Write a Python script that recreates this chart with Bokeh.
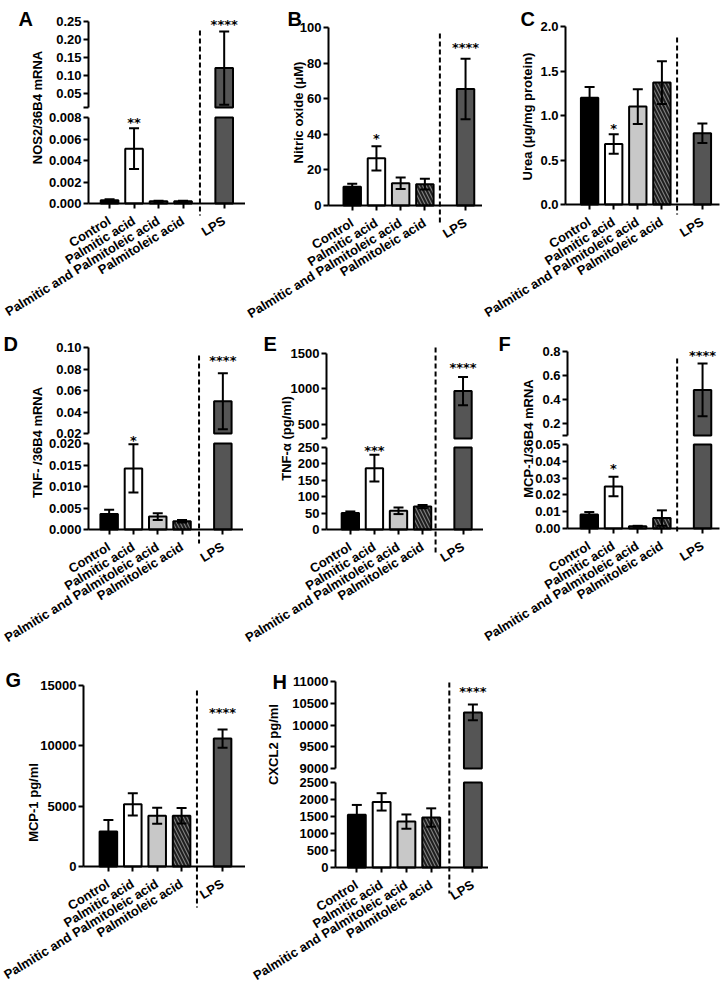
import math
from bokeh.plotting import figure
from bokeh.layouts import row, column
from bokeh.models import (ColumnDataSource, FixedTicker, PrintfTickFormatter, Label,
                          Range1d, LinearAxis, Arrow)
from bokeh.core.properties import field
from bokeh.embed import file_html
from bokeh.resources import INLINE

# ---------------- data ----------------
categories = ["Control", "Palmitic acid", "Palmitic and Palmitoleic acid",
              "Palmitoleic acid", "LPS"]

nos2_mean = [0.0003, 0.0051, 0.0002, 0.0002, 0.120]
nos2_sem = [0.0001, 0.0019, 0.00005, 0.00005, 0.102]
nos2_sig = ["", "**", "", "", "****"]

no_mean = [10.5, 26.5, 12.5, 12.0, 65.5]
no_sem = [1.7, 6.8, 3.3, 3.0, 17.0]
no_sig = ["", "*", "", "", "****"]

urea_mean = [1.20, 0.68, 1.10, 1.37, 0.80]
urea_sem = [0.12, 0.11, 0.195, 0.24, 0.11]
urea_sig = ["", "*", "", "", ""]

tnf_mrna_mean = [0.0036, 0.0142, 0.0030, 0.0019, 0.050]
tnf_mrna_sem = [0.0010, 0.0056, 0.0008, 0.0003, 0.026]
tnf_mrna_sig = ["", "*", "", "", "****"]

tnf_mean = [50, 187, 57, 70, 970]
tnf_sem = [5, 41, 10, 5, 200]
tnf_sig = ["", "***", "", "", "****"]

mcp_mrna_mean = [0.0083, 0.025, 0.0013, 0.0062, 0.48]
mcp_mrna_sem = [0.0015, 0.0058, 0.0003, 0.0046, 0.22]
mcp_mrna_sig = ["", "*", "", "", "****"]

mcp_mean = [2900, 5150, 4200, 4200, 10600]
mcp_sem = [950, 930, 660, 640, 750]
mcp_sig = ["", "", "", "", "****"]

cxcl2_mean = [1550, 1930, 1350, 1470, 10290]
cxcl2_sem = [290, 255, 210, 270, 180]
cxcl2_sig = ["", "", "", "", "****"]

# ---------------- styling / layout ----------------
FONT = "Liberation Sans"
STAR_FONT = "DejaVu Sans"
bar_fill = ["#000000", "#ffffff", "#c8c8c8", "#808080", "#555555"]
bar_hatch = [" ", " ", " ", "\\", " "]
bar_pos = [0, 1, 2, 3, 4.68]
BAR_W = 0.72
CAP_PX = 5


def seg(y0, y1, ticks, fmt, h, gap=0, blank=()):
    return dict(y0=y0, y1=y1, ticks=ticks, fmt=fmt, h=h, gap=gap, blank=list(blank))


panels = {
    "A": dict(ylabel="NOS2/36B4 mRNA", mean=nos2_mean, sem=nos2_sem, sig=nos2_sig,
              left=88, fw=157, right=0, top=21, bottom=122, xr=(-0.86, 5.55),
              segs=[seg(0.01, 0.25, [0.01, 0.05, 0.10, 0.15, 0.20, 0.25], "%.2f", 86, 10, [0.01]),
                    seg(0, 0.008, [0, 0.002, 0.004, 0.006, 0.008], "%.3f", 86)],
              letter=(18, 18), ylab=(37, 107), star_px=[0, 11, 0, 0, 12], dash=(3.69, 9, 12)),
    "B": dict(ylabel="Nitric oxide (\u03bcM)", mean=no_mean, sem=no_sem, sig=no_sig,
              left=83, fw=154, right=0, top=27, bottom=120, xr=(-0.98, 5.38),
              segs=[seg(0, 100, [0, 20, 40, 60, 80, 100], "%d", 178)],
              letter=(287, 18), ylab=(298, 112), star_px=[0, 13, 0, 0, 16], dash=(3.62, 6, 17)),
    "C": dict(ylabel="Urea (\u03bcg/mg protein)", mean=urea_mean, sem=urea_sem, sig=urea_sig,
              left=83, fw=154, right=8, top=26, bottom=121, xr=(-1.00, 5.39),
              segs=[seg(0, 2.0, [0, 0.5, 1.0, 1.5, 2.0], "%.1f", 178)],
              letter=(520, 18), ylab=(527, 116), star_px=[0, 11, 0, 0, 0], dash=(3.63, 11, 10)),
    "D": dict(ylabel="TNF- /36B4 mRNA", mean=tnf_mrna_mean, sem=tnf_mrna_sem, sig=tnf_mrna_sig,
              left=88, fw=155, right=0, top=22, bottom=126, xr=(-0.85, 5.53),
              segs=[seg(0.02, 0.10, [0.02, 0.04, 0.06, 0.08, 0.10], "%.2f", 86, 10),
                    seg(0, 0.02, [0, 0.005, 0.010, 0.015, 0.020], "%.3f", 86)],
              letter=(3, 343), ylab=(37, 442), star_px=[0, 9, 0, 0, 18], dash=(3.70, 8, 14)),
    "E": dict(ylabel="TNF-\u03b1 (pg/ml)", mean=tnf_mean, sem=tnf_sem, sig=tnf_sig,
              left=83, fw=157, right=0, top=28, bottom=126, xr=(-0.99, 5.53),
              segs=[seg(300, 1500, [300, 500, 1000, 1500], "%d", 85, 9, [300]),
                    seg(0, 250, [0, 50, 100, 150, 200, 250], "%d", 82)],
              letter=(263, 343), ylab=(286, 438), star_px=[0, 9, 0, 0, 14], dash=(3.54, -6, 24)),
    "F": dict(ylabel="MCP-1/36B4 mRNA", mean=mcp_mrna_mean, sem=mcp_mrna_sem, sig=mcp_mrna_sig,
              left=84, fw=152, right=8, top=26, bottom=127, xr=(-0.90, 5.38),
              segs=[seg(0.1, 0.8, [0.1, 0.2, 0.4, 0.6, 0.8], "%.1f", 84, 9, [0.1]),
                    seg(0, 0.05, [0, 0.01, 0.02, 0.03, 0.04, 0.05], "%.2f", 84)],
              letter=(498, 343), ylab=(528, 438), star_px=[0, 13, 0, 0, 13], dash=(3.63, 7, 6)),
    "G": dict(ylabel="MCP-1 pg/ml", mean=mcp_mean, sem=mcp_sem, sig=mcp_sig,
              left=83, fw=162, right=0, top=30, bottom=116, xr=(-1.02, 5.62),
              segs=[seg(0, 15000, [0, 5000, 10000, 15000], "%d", 181)],
              letter=(5, 679), ylab=(33, 802), star_px=[0, 0, 0, 0, 22], dash=(3.63, 5, 41)),
    "H": dict(ylabel="CXCL2 pg/ml", mean=cxcl2_mean, sem=cxcl2_sem, sig=cxcl2_sig,
              left=90, fw=153, right=0, top=26, bottom=115, xr=(-0.86, 5.31),
              segs=[seg(9000, 11000, [9000, 9500, 10000, 10500, 11000], "%d", 87, 14),
                    seg(0, 2500, [0, 500, 1000, 1500, 2000, 2500], "%d", 85)],
              letter=(272, 681), ylab=(273, 744), star_px=[0, 0, 0, 0, 18], dash=(3.73, 1, 26)),
}

ORIGIN_X = 0
grid_rows = [(0, ["A", "B", "C"]), (325, ["D", "E", "F"]), (655, ["G", "H"])]


def style_axis(ax, size="13px", standoff=2):
    ax.axis_line_width = 2
    ax.axis_line_color = "black"
    ax.major_tick_line_width = 2
    ax.major_tick_line_color = "black"
    ax.major_tick_out = 5
    ax.major_tick_in = 0
    ax.minor_tick_line_color = None
    ax.major_label_text_font = FONT
    ax.major_label_text_font_style = "bold"
    ax.major_label_text_font_size = size
    ax.major_label_text_color = "black"
    ax.major_label_standoff = standoff


def make_panel(name, P, pl, pt):
    segs = P["segs"]
    F = sum(s["h"] + s["gap"] for s in segs)
    xs, xe = P["xr"]
    fw = P["fw"]
    ppx = fw / (xe - xs)
    W = P["left"] + fw + P["right"]
    Hc = P["top"] + F + P["bottom"]
    a = P["top"]
    for s in segs:
        s["a"] = a
        s["b"] = a + s["h"]
        a = s["b"] + s["gap"]
        s["upp"] = (s["y1"] - s["y0"]) / s["h"]
        s["r0"] = s["y0"] - (Hc - s["b"]) * s["upp"]
        s["r1"] = s["y1"] + s["a"] * s["upp"]
    base = segs[-1]
    x0 = xs - P["left"] / ppx
    x1 = xe + P["right"] / ppx

    p = figure(width=W, height=Hc, x_range=Range1d(x0, x1),
               y_range=Range1d(base["r0"], base["r1"]),
               output_backend="svg", toolbar_location=None, tools="",
               min_border=0, min_border_left=0, min_border_right=0,
               min_border_top=0, min_border_bottom=0)
    p.outline_line_color = None
    p.grid.visible = False
    p.background_fill_color = "white"
    p.border_fill_color = "white"

    extra = {}
    for i, s in enumerate(segs):
        if s is base:
            s["rn"] = "default"
        else:
            s["rn"] = "seg%d" % i
            extra[s["rn"]] = Range1d(s["r0"], s["r1"])
    if extra:
        p.extra_y_ranges = extra

    for s in segs:
        if s["rn"] == "default":
            ax = p.yaxis[0]
            ax.fixed_location = xs
        else:
            ax = LinearAxis(y_range_name=s["rn"], fixed_location=xs)
            p.add_layout(ax, "left")
        ax.bounds = (s["y0"], s["y1"])
        ax.ticker = FixedTicker(ticks=s["ticks"])
        ax.formatter = PrintfTickFormatter(format=s["fmt"])
        if s["blank"]:
            ax.major_label_overrides = {t: "" for t in s["blank"]}
        style_axis(ax)

    xa = p.xaxis[0]
    xa.fixed_location = base["y0"]
    xa.bounds = (xs, xe)
    xa.ticker = FixedTicker(ticks=bar_pos)
    xa.major_label_overrides = dict(zip(bar_pos, categories))
    xa.major_label_orientation = 0.55
    style_axis(xa, size="13px", standoff=11)

    cap = CAP_PX / ppx
    mean, sem = P["mean"], P["sem"]
    for s in segs:
        is_top = s is not base
        bx, btop, bbot, bfill, bh = [], [], [], [], []
        wx, wlo, whi = [], [], []
        cx0, cx1, cy = [], [], []
        for k in range(len(mean)):
            m, e = mean[k], sem[k]
            if not (is_top and m <= s["y0"]):
                bx.append(bar_pos[k])
                btop.append(min(m, s["y1"]))
                bbot.append(s["y0"])
                bfill.append(bar_fill[k])
                bh.append(bar_hatch[k])
            lo, hi = m - e, m + e
            wl, wh = max(lo, s["y0"]), min(hi, s["y1"])
            if wl < wh:
                wx.append(bar_pos[k]); wlo.append(wl); whi.append(wh)
            for v in (lo, hi):
                if s["y0"] <= v <= s["y1"]:
                    cx0.append(bar_pos[k] - cap); cx1.append(bar_pos[k] + cap); cy.append(v)
        bsrc = ColumnDataSource(dict(x=bx, top=btop, bottom=bbot, fill=bfill, hatch=bh))
        p.vbar(x="x", top="top", bottom="bottom", width=BAR_W, source=bsrc,
               fill_color=field("fill"), line_color="black", line_width=2,
               hatch_pattern=field("hatch"), hatch_color="#1e1e1e", hatch_weight=2,
               hatch_scale=7, y_range_name=s["rn"])
        p.segment(x0=wx, y0=wlo, x1=wx, y1=whi, line_color="black", line_width=2,
                  y_range_name=s["rn"])
        p.segment(x0=cx0, y0=cy, x1=cx1, y1=cy, line_color="black", line_width=2,
                  y_range_name=s["rn"])

    # significance stars
    for k, txt in enumerate(P["sig"]):
        if not txt:
            continue
        hi = mean[k] + sem[k]
        s = next(sg for sg in segs if hi >= sg["y0"])
        y = hi + (P["star_px"][k] - 5) * s["upp"]
        p.add_layout(Label(x=bar_pos[k], y=y, y_range_name=s["rn"], text=txt,
                           text_align="center", text_baseline="alphabetic",
                           text_font=STAR_FONT, text_font_style="bold",
                           text_font_size="13px", text_color="black"))

    upp = base["upp"]

    def to_data(px, py):
        return x0 + (px - pl) / ppx, base["r1"] - (py - pt) * upp

    dx, dtop, dbot = P["dash"]
    _, ytop = to_data(0, pt + P["top"] + dtop)
    _, ybot = to_data(0, pt + base["b"] + dbot)
    p.add_layout(Arrow(end=None, x_start=dx, y_start=ytop, x_end=dx, y_end=ybot,
                       line_color="black", line_width=2, line_dash="5 3"))

    lx, ly = to_data(*P["letter"])
    p.add_layout(Label(x=lx, y=ly, text=name, text_font=FONT, text_font_style="bold",
                       text_font_size="20px", text_baseline="alphabetic", text_align="left",
                       text_color="black"))
    yx, yy = to_data(*P["ylab"])
    p.add_layout(Label(x=yx, y=yy, text=P["ylabel"], angle=math.pi / 2, text_align="center",
                       text_baseline="middle", text_font=FONT, text_font_style="bold",
                       text_font_size="13px", text_color="black"))
    return p, W


rows = []
for pt, names in grid_rows:
    pl = ORIGIN_X
    figs = []
    for n in names:
        fig, w = make_panel(n, panels[n], pl, pt)
        figs.append(fig)
        pl += w
    rows.append(row(*figs))

layout = column(*rows)
open("out.html", "w").write(file_html(layout, INLINE, title="Figure"))
